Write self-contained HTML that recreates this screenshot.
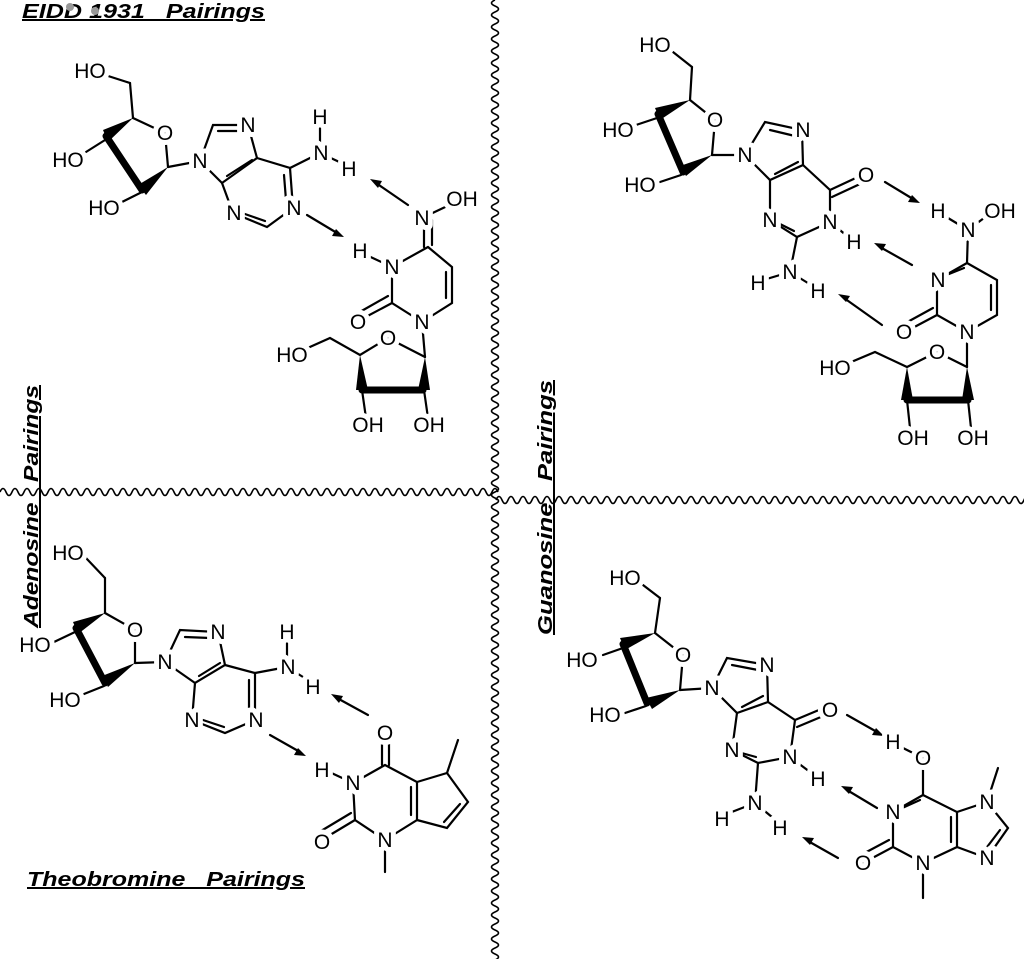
<!DOCTYPE html>
<html><head><meta charset="utf-8"><style>
html,body{margin:0;padding:0;background:#fff;}
svg{display:block;}
.a{font-family:"Liberation Sans",sans-serif;font-size:21px;fill:#000;text-anchor:middle;paint-order:stroke;stroke:#fff;stroke-width:10px;stroke-linejoin:round;}
.t{font-family:"Liberation Sans",sans-serif;font-size:20px;font-weight:bold;font-style:italic;fill:#000;text-decoration:underline;white-space:pre;}
line,polyline{stroke:#000;stroke-width:2.2;fill:none;stroke-linecap:round;}
.w{stroke:#000;stroke-width:1.6;fill:none;}
.b{stroke-width:7;}
</style></head><body>
<svg width="1024" height="959" viewBox="0 0 1024 959" xmlns="http://www.w3.org/2000/svg">
<path class="w" d="M0,492 q3,-7 6,0 t6,0 t6,0 t6,0 t6,0 t6,0 t6,0 t6,0 t6,0 t6,0 t6,0 t6,0 t6,0 t6,0 t6,0 t6,0 t6,0 t6,0 t6,0 t6,0 t6,0 t6,0 t6,0 t6,0 t6,0 t6,0 t6,0 t6,0 t6,0 t6,0 t6,0 t6,0 t6,0 t6,0 t6,0 t6,0 t6,0 t6,0 t6,0 t6,0 t6,0 t6,0 t6,0 t6,0 t6,0 t6,0 t6,0 t6,0 t6,0 t6,0 t6,0 t6,0 t6,0 t6,0 t6,0 t6,0 t6,0 t6,0 t6,0 t6,0 t6,0 t6,0 t6,0 t6,0 t6,0 t6,0 t6,0 t6,0 t6,0 t6,0 t6,0 t6,0 t6,0 t6,0 t6,0 t6,0 t6,0 t6,0 t6,0 t6,0 t6,0 t6,0 t6,0"/>
<path class="w" d="M496,500 q3,-7 6,0 t6,0 t6,0 t6,0 t6,0 t6,0 t6,0 t6,0 t6,0 t6,0 t6,0 t6,0 t6,0 t6,0 t6,0 t6,0 t6,0 t6,0 t6,0 t6,0 t6,0 t6,0 t6,0 t6,0 t6,0 t6,0 t6,0 t6,0 t6,0 t6,0 t6,0 t6,0 t6,0 t6,0 t6,0 t6,0 t6,0 t6,0 t6,0 t6,0 t6,0 t6,0 t6,0 t6,0 t6,0 t6,0 t6,0 t6,0 t6,0 t6,0 t6,0 t6,0 t6,0 t6,0 t6,0 t6,0 t6,0 t6,0 t6,0 t6,0 t6,0 t6,0 t6,0 t6,0 t6,0 t6,0 t6,0 t6,0 t6,0 t6,0 t6,0 t6,0 t6,0 t6,0 t6,0 t6,0 t6,0 t6,0 t6,0 t6,0 t6,0 t6,0 t6,0 t6,0 t6,0 t6,0 t6,0 t6,0 t6,0 t6,0 t6,0"/>
<path class="w" d="M495,0 q-7,3 0,6 t0,6 t0,6 t0,6 t0,6 t0,6 t0,6 t0,6 t0,6 t0,6 t0,6 t0,6 t0,6 t0,6 t0,6 t0,6 t0,6 t0,6 t0,6 t0,6 t0,6 t0,6 t0,6 t0,6 t0,6 t0,6 t0,6 t0,6 t0,6 t0,6 t0,6 t0,6 t0,6 t0,6 t0,6 t0,6 t0,6 t0,6 t0,6 t0,6 t0,6 t0,6 t0,6 t0,6 t0,6 t0,6 t0,6 t0,6 t0,6 t0,6 t0,6 t0,6 t0,6 t0,6 t0,6 t0,6 t0,6 t0,6 t0,6 t0,6 t0,6 t0,6 t0,6 t0,6 t0,6 t0,6 t0,6 t0,6 t0,6 t0,6 t0,6 t0,6 t0,6 t0,6 t0,6 t0,6 t0,6 t0,6 t0,6 t0,6 t0,6 t0,6 t0,6 t0,6 t0,6 t0,6 t0,6 t0,6 t0,6 t0,6 t0,6 t0,6 t0,6 t0,6 t0,6 t0,6 t0,6 t0,6 t0,6 t0,6 t0,6 t0,6 t0,6 t0,6 t0,6 t0,6 t0,6 t0,6 t0,6 t0,6 t0,6 t0,6 t0,6 t0,6 t0,6 t0,6 t0,6 t0,6 t0,6 t0,6 t0,6 t0,6 t0,6 t0,6 t0,6 t0,6 t0,6 t0,6 t0,6 t0,6 t0,6 t0,6 t0,6 t0,6 t0,6 t0,6 t0,6 t0,6 t0,6 t0,6 t0,6 t0,6 t0,6 t0,6 t0,6 t0,6 t0,6 t0,6 t0,6 t0,6 t0,6 t0,6 t0,6 t0,6 t0,6 t0,6 t0,6 t0,6 t0,6 t0,6"/>

<text class="t" x="22" y="18" xml:space="preserve" textLength="243" lengthAdjust="spacingAndGlyphs">EIDD 1931   Pairings</text>
<circle cx="70" cy="7" r="4" fill="#999"/><circle cx="95" cy="11" r="4" fill="#999"/>
<text class="t" x="27" y="886" xml:space="preserve" textLength="278" lengthAdjust="spacingAndGlyphs">Theobromine   Pairings</text>
<text class="t" transform="translate(38,628) rotate(-90)" xml:space="preserve" textLength="243" lengthAdjust="spacingAndGlyphs">Adenosine   Pairings</text>
<text class="t" transform="translate(552,635) rotate(-90)" xml:space="preserve" textLength="255" lengthAdjust="spacingAndGlyphs">Guanosine   Pairings</text>

<!-- Q1 adenosine -->
<g>
<line x1="105" y1="75" x2="130" y2="83"/><line x1="130" y1="83" x2="133" y2="118"/>
<line x1="133" y1="118" x2="165" y2="133"/><line x1="165" y1="133" x2="168" y2="167"/>
<polygon points="133,118 103,130 108,142"/><polygon points="168,167 138,185 146,195"/>
<line class="b" x1="106" y1="136" x2="142" y2="190"/>
<line x1="105" y1="140" x2="86" y2="152"/><line x1="142" y1="192" x2="120" y2="203"/>
<line x1="168" y1="167" x2="200" y2="161"/>
<polyline points="200,161 213,125 248,125 257,158 222,183 200,161"/>
<line x1="218" y1="131" x2="240" y2="131"/><line x1="227" y1="176" x2="252" y2="160"/>
<polyline points="257,158 290,168 293,208 267,227 233,213 222,183"/>
<line x1="284" y1="175" x2="286" y2="200"/><line x1="242" y1="213" x2="265" y2="221"/>
<line x1="290" y1="168" x2="320" y2="153"/><line x1="320" y1="153" x2="320" y2="120"/><line x1="320" y1="153" x2="348" y2="166"/>
<text class="a" x="90" y="78">HO</text><text class="a" x="165" y="140">O</text>
<text class="a" x="68" y="167">HO</text><text class="a" x="104" y="215">HO</text>
<text class="a" x="200" y="168">N</text><text class="a" x="248" y="132">N</text>
<text class="a" x="294" y="215">N</text><text class="a" x="234" y="220">N</text>
<text class="a" x="321" y="160">N</text><text class="a" x="320" y="124">H</text><text class="a" x="349" y="176">H</text>
</g>
<line x1="408" y1="205" x2="376" y2="183"/><polygon points="370,179 382,181 378,188"/>
<line x1="307" y1="215" x2="337" y2="233"/><polygon points="344,237 332,236 336,229"/>
<g>
<line x1="422" y1="218" x2="460" y2="200"/>
<line x1="424" y1="218" x2="424" y2="247"/><line x1="432" y1="220" x2="432" y2="245"/>
<polyline points="428,247 452,267 452,303 422,322 392,303 392,267 428,247"/>
<line x1="446" y1="272" x2="446" y2="298"/>
<line x1="392" y1="267" x2="362" y2="253"/>
<line x1="392" y1="303" x2="360" y2="320"/><line x1="388" y1="296" x2="358" y2="313"/>
<line x1="422" y1="322" x2="425" y2="357"/>
<polyline points="425,357 388,338 360,355 330,338 292,355"/>
<polygon points="360,355 356,390 368,390"/><polygon points="425,357 418,390 430,390"/>
<line class="b" x1="362" y1="390" x2="423" y2="390"/>
<line x1="362" y1="390" x2="366" y2="418"/><line x1="424" y1="390" x2="428" y2="418"/>
<text class="a" x="422" y="225">N</text><text class="a" x="462" y="206">OH</text>
<text class="a" x="392" y="274">N</text><text class="a" x="360" y="258">H</text>
<text class="a" x="358" y="329">O</text><text class="a" x="422" y="329">N</text>
<text class="a" x="388" y="345">O</text><text class="a" x="292" y="362">HO</text>
<text class="a" x="368" y="432">OH</text><text class="a" x="429" y="432">OH</text>
</g>

<!-- Q2 guanosine -->
<g>
<line x1="673" y1="52" x2="692" y2="67"/><line x1="692" y1="67" x2="690" y2="100"/>
<line x1="690" y1="100" x2="715" y2="120"/><line x1="715" y1="120" x2="712" y2="155"/>
<polygon points="690,100 655,108 660,120"/><polygon points="712,155 680,166 686,176"/>
<line class="b" x1="658" y1="114" x2="683" y2="172"/>
<line x1="657" y1="118" x2="636" y2="125"/><line x1="681" y1="175" x2="660" y2="182"/>
<line x1="712" y1="155" x2="745" y2="155"/>
<polyline points="745,155 765,122 802,130 803,165 770,180 745,155"/>
<line x1="770" y1="130" x2="795" y2="136"/><line x1="775" y1="174" x2="798" y2="162"/>
<polyline points="803,165 830,190 830,222 797,237 770,220 770,180"/>
<line x1="830" y1="190" x2="860" y2="176"/><line x1="832" y1="197" x2="860" y2="184"/>
<line x1="776" y1="222" x2="794" y2="231"/>
<line x1="830" y1="222" x2="852" y2="240"/>
<line x1="797" y1="237" x2="790" y2="272"/><line x1="790" y1="272" x2="760" y2="281"/><line x1="790" y1="272" x2="816" y2="288"/>
<text class="a" x="655" y="52">HO</text><text class="a" x="715" y="127">O</text>
<text class="a" x="618" y="137">HO</text><text class="a" x="640" y="192">HO</text>
<text class="a" x="745" y="162">N</text><text class="a" x="803" y="137">N</text>
<text class="a" x="866" y="182">O</text><text class="a" x="830" y="229">N</text><text class="a" x="854" y="249">H</text>
<text class="a" x="770" y="227">N</text><text class="a" x="790" y="279">N</text>
<text class="a" x="758" y="290">H</text><text class="a" x="818" y="298">H</text>
</g>
<line x1="885" y1="182" x2="913" y2="199"/><polygon points="920,203 908,202 912,195"/>
<line x1="912" y1="265" x2="880" y2="247"/><polygon points="874,243 886,244 882,251"/>
<line x1="882" y1="325" x2="844" y2="298"/><polygon points="838,294 850,296 846,302"/>
<g>
<line x1="938" y1="212" x2="968" y2="230"/><line x1="968" y1="230" x2="992" y2="212"/>
<line x1="968" y1="230" x2="967" y2="263"/>
<polyline points="967,263 997,280 997,315 967,332 937,315 937,280 967,263"/>
<line x1="944" y1="276" x2="964" y2="268"/><line x1="991" y1="285" x2="991" y2="310"/>
<line x1="937" y1="315" x2="905" y2="332"/><line x1="933" y1="308" x2="902" y2="325"/>
<line x1="967" y1="332" x2="967" y2="367"/>
<polyline points="967,367 937,352 907,367 875,352 837,368"/>
<polygon points="907,367 901,400 913,400"/><polygon points="967,367 962,400 974,400"/>
<line class="b" x1="907" y1="400" x2="968" y2="400"/>
<line x1="907" y1="400" x2="910" y2="428"/><line x1="968" y1="400" x2="971" y2="428"/>
<text class="a" x="938" y="218">H</text><text class="a" x="968" y="237">N</text><text class="a" x="1000" y="218">OH</text>
<text class="a" x="938" y="287">N</text><text class="a" x="904" y="339">O</text><text class="a" x="967" y="339">N</text>
<text class="a" x="937" y="359">O</text><text class="a" x="835" y="375">HO</text>
<text class="a" x="913" y="445">OH</text><text class="a" x="973" y="445">OH</text>
</g>

<!-- Q3 adenosine -->
<g>
<line x1="86" y1="558" x2="105" y2="578"/><line x1="105" y1="578" x2="105" y2="613"/>
<line x1="105" y1="613" x2="135" y2="630"/><line x1="135" y1="630" x2="135" y2="663"/>
<polygon points="105,613 73,622 78,634"/><polygon points="135,663 102,676 108,687"/>
<line class="b" x1="76" y1="628" x2="105" y2="683"/>
<line x1="75" y1="632" x2="54" y2="642"/><line x1="104" y1="686" x2="84" y2="694"/>
<line x1="135" y1="663" x2="165" y2="662"/>
<polyline points="165,662 180,630 218,632 225,665 195,683 165,662"/>
<line x1="185" y1="637" x2="210" y2="638"/><line x1="199" y1="676" x2="220" y2="663"/>
<polyline points="225,665 255,673 255,720 225,733 192,720 195,683"/>
<line x1="249" y1="680" x2="249" y2="708"/><line x1="203" y1="720" x2="224" y2="727"/>
<line x1="255" y1="673" x2="287" y2="667"/><line x1="287" y1="667" x2="287" y2="638"/><line x1="287" y1="667" x2="311" y2="682"/>
<text class="a" x="68" y="560">HO</text><text class="a" x="135" y="637">O</text>
<text class="a" x="35" y="652">HO</text><text class="a" x="65" y="707">HO</text>
<text class="a" x="165" y="669">N</text><text class="a" x="218" y="639">N</text>
<text class="a" x="256" y="727">N</text><text class="a" x="192" y="727">N</text>
<text class="a" x="288" y="674">N</text><text class="a" x="287" y="639">H</text><text class="a" x="313" y="694">H</text>
</g>
<line x1="368" y1="715" x2="337" y2="698"/><polygon points="331,694 343,696 339,703"/>
<line x1="270" y1="735" x2="300" y2="752"/><polygon points="306,756 294,755 298,748"/>
<g>
<line x1="382" y1="733" x2="382" y2="765"/><line x1="389" y1="733" x2="389" y2="765"/>
<polyline points="385,765 417,782 417,820 385,840 355,820 353,783 385,765"/>
<line x1="411" y1="787" x2="411" y2="815"/>
<line x1="353" y1="783" x2="325" y2="770"/>
<line x1="355" y1="820" x2="325" y2="838"/><line x1="351" y1="813" x2="321" y2="831"/>
<line x1="385" y1="840" x2="385" y2="872"/>
<polyline points="417,782 447,773 468,802 447,828 417,820"/>
<line x1="447" y1="773" x2="458" y2="740"/>
<line x1="460" y1="804" x2="444" y2="822"/>
<text class="a" x="385" y="740">O</text><text class="a" x="353" y="790">N</text><text class="a" x="322" y="777">H</text>
<text class="a" x="322" y="849">O</text><text class="a" x="385" y="847">N</text>
</g>

<!-- Q4 guanosine -->
<g>
<line x1="643" y1="585" x2="660" y2="598"/><line x1="660" y1="598" x2="655" y2="633"/>
<line x1="655" y1="633" x2="683" y2="655"/><line x1="683" y1="655" x2="680" y2="690"/>
<polygon points="655,633 620,638 625,650"/><polygon points="680,690 646,698 652,709"/>
<line class="b" x1="623" y1="644" x2="647" y2="703"/>
<line x1="623" y1="648" x2="603" y2="655"/><line x1="646" y1="706" x2="625" y2="713"/>
<line x1="680" y1="690" x2="712" y2="688"/>
<polyline points="712,688 727,658 767,665 768,702 737,713 712,688"/>
<line x1="732" y1="665" x2="758" y2="670"/><line x1="742" y1="707" x2="763" y2="696"/>
<polyline points="768,702 795,720 790,757 758,763 732,750 737,713"/>
<line x1="795" y1="720" x2="826" y2="707"/><line x1="797" y1="727" x2="828" y2="714"/>
<line x1="738" y1="752" x2="756" y2="757"/>
<line x1="790" y1="757" x2="814" y2="775"/>
<line x1="758" y1="763" x2="755" y2="803"/><line x1="755" y1="803" x2="724" y2="815"/><line x1="755" y1="803" x2="778" y2="822"/>
<text class="a" x="625" y="585">HO</text><text class="a" x="683" y="662">O</text>
<text class="a" x="582" y="667">HO</text><text class="a" x="605" y="722">HO</text>
<text class="a" x="712" y="695">N</text><text class="a" x="767" y="672">N</text>
<text class="a" x="830" y="717">O</text><text class="a" x="790" y="764">N</text><text class="a" x="818" y="786">H</text>
<text class="a" x="732" y="757">N</text><text class="a" x="755" y="810">N</text>
<text class="a" x="722" y="826">H</text><text class="a" x="780" y="835">H</text>
</g>
<line x1="847" y1="715" x2="877" y2="732"/><polygon points="884,736 872,735 876,728"/>
<line x1="877" y1="808" x2="847" y2="790"/><polygon points="841,786 853,787 849,794"/>
<line x1="838" y1="858" x2="808" y2="841"/><polygon points="802,837 814,838 810,845"/>
<g>
<line x1="895" y1="744" x2="923" y2="758"/>
<line x1="923" y1="758" x2="923" y2="795"/>
<polyline points="923,795 957,812 957,847 923,863 893,847 893,812 923,795"/>
<line x1="900" y1="809" x2="920" y2="800"/><line x1="951" y1="817" x2="951" y2="842"/>
<line x1="893" y1="847" x2="863" y2="863"/><line x1="889" y1="840" x2="859" y2="856"/>
<line x1="923" y1="863" x2="923" y2="898"/>
<polyline points="957,812 987,802 1008,828 987,858 957,847"/>
<line x1="987" y1="802" x2="998" y2="768"/>
<line x1="1000" y1="830" x2="984" y2="851"/>
<text class="a" x="893" y="749">H</text><text class="a" x="923" y="765">O</text>
<text class="a" x="893" y="819">N</text><text class="a" x="863" y="870">O</text>
<text class="a" x="923" y="870">N</text><text class="a" x="987" y="809">N</text><text class="a" x="987" y="865">N</text>
</g>
</svg>
</body></html>
